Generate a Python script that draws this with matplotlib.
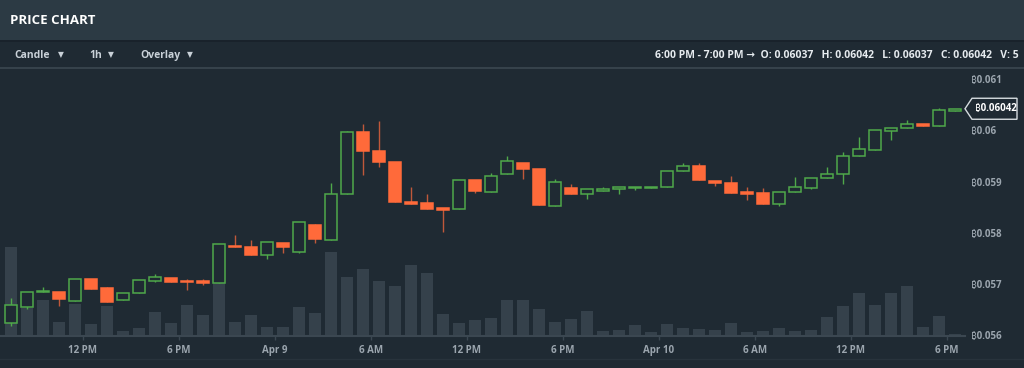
"""Hourly BTC price chart: candles with volume underneath, dark exchange-style UI."""

import numpy as np
import pandas as pd
import matplotlib
matplotlib.use("Agg")
import matplotlib.pyplot as plt
import matplotlib.dates as mdates
from matplotlib.patches import Rectangle, Polygon
from matplotlib.lines import Line2D
from matplotlib.transforms import IdentityTransform

W, H = 1024, 368
BG = "#1f2a33"
HEADER_BG = "#2c3a44"
GREEN = "#4fa84a"
RED = "#ff6a3a"
RED_WICK = "#c0583a"
VOL = "#35414b"
LINE = "#3b4751"
TEXT = "#c9d1d8"
AXIS_TEXT = "#9ba5ae"
FONT = ["Open Sans", "Noto Sans", "DejaVu Sans"]

times = pd.date_range("2018-04-08 07:00", periods=60, freq="h")
opens = [0.05624, 0.05656, 0.05684, 0.05685, 0.05667, 0.05710, 0.05692, 0.05669, 0.05683, 0.05707,
         0.05713, 0.05706, 0.05707, 0.05702, 0.05774, 0.05773, 0.05756, 0.05780, 0.05763, 0.05815,
         0.05787, 0.05876, 0.05997, 0.05960, 0.05939, 0.05860, 0.05858, 0.05848, 0.05846, 0.05904,
         0.05880, 0.05914, 0.05937, 0.05924, 0.05852, 0.05888, 0.05876, 0.05882, 0.05886, 0.05888,
         0.05888, 0.05889, 0.05920, 0.05930, 0.05902, 0.05898, 0.05879, 0.05877, 0.05856, 0.05879,
         0.05888, 0.05907, 0.05915, 0.05950, 0.05962, 0.05999, 0.06005, 0.06012, 0.06008, 0.06037]
highs = [0.05674, 0.05685, 0.05695, 0.05685, 0.05710, 0.05710, 0.05695, 0.05683, 0.05708, 0.05719,
         0.05713, 0.05711, 0.05711, 0.05779, 0.05795, 0.05786, 0.05782, 0.05780, 0.05822, 0.05817,
         0.05898, 0.05999, 0.06012, 0.06018, 0.05939, 0.05890, 0.05876, 0.05848, 0.05903, 0.05904,
         0.05916, 0.05950, 0.05937, 0.05924, 0.05906, 0.05895, 0.05885, 0.05890, 0.05889, 0.05889,
         0.05890, 0.05920, 0.05937, 0.05936, 0.05902, 0.05911, 0.05890, 0.05887, 0.05880, 0.05908,
         0.05907, 0.05928, 0.05957, 0.05987, 0.06000, 0.06005, 0.06021, 0.06012, 0.06043, 0.06042]
lows = [0.05619, 0.05651, 0.05684, 0.05658, 0.05667, 0.05691, 0.05666, 0.05669, 0.05683, 0.05704,
        0.05705, 0.05688, 0.05698, 0.05702, 0.05772, 0.05756, 0.05749, 0.05760, 0.05760, 0.05780,
        0.05787, 0.05876, 0.05912, 0.05929, 0.05860, 0.05857, 0.05847, 0.05802, 0.05846, 0.05877,
        0.05880, 0.05914, 0.05906, 0.05854, 0.05852, 0.05876, 0.05867, 0.05882, 0.05875, 0.05884,
        0.05888, 0.05889, 0.05920, 0.05903, 0.05891, 0.05878, 0.05865, 0.05856, 0.05852, 0.05879,
        0.05885, 0.05907, 0.05895, 0.05950, 0.05962, 0.05981, 0.06005, 0.06008, 0.06008, 0.06037]
closes = [0.05659, 0.05685, 0.05687, 0.05671, 0.05710, 0.05691, 0.05666, 0.05683, 0.05708, 0.05715,
          0.05705, 0.05704, 0.05702, 0.05779, 0.05772, 0.05756, 0.05782, 0.05773, 0.05822, 0.05788,
          0.05875, 0.05996, 0.05960, 0.05939, 0.05860, 0.05857, 0.05847, 0.05845, 0.05903, 0.05882,
          0.05911, 0.05941, 0.05924, 0.05854, 0.05899, 0.05876, 0.05885, 0.05886, 0.05889, 0.05889,
          0.05890, 0.05920, 0.05931, 0.05903, 0.05897, 0.05878, 0.05876, 0.05856, 0.05880, 0.05890,
          0.05907, 0.05915, 0.05950, 0.05963, 0.06000, 0.06005, 0.06012, 0.06008, 0.06039, 0.06042]
volumes = [444, 135, 175, 67, 155, 55, 145, 22, 38, 115,
           60, 152, 103, 260, 68, 101, 42, 40, 140, 110,
           418, 291, 334, 271, 246, 352, 311, 109, 64, 76,
           89, 177, 176, 134, 69, 82, 122, 22, 29, 52,
           17, 56, 37, 32, 29, 60, 17, 20, 35, 22,
           27, 94, 146, 212, 152, 211, 249, 42, 99, 5]

tick_times = pd.date_range("2018-04-08 12:00", "2018-04-10 18:00", freq="6h")
tick_labels = ["12 PM", "6 PM", "Apr 9", "6 AM", "12 PM", "6 PM", "Apr 10", "6 AM", "12 PM", "6 PM"]
price_ticks = [0.056, 0.057, 0.058, 0.059, 0.060, 0.061]
info_text = "6:00 PM - 7:00 PM \u2192  O: 0.06037   H: 0.06042   L: 0.06037   C: 0.06042   V: 5"


def fx(px):
    return px / W


def fy(py):
    return 1 - py / H


fig = plt.figure(figsize=(W / 100, H / 100), dpi=100, facecolor=BG)

# page chrome: header, toolbar, separators
fig.add_artist(Rectangle((0, fy(40)), 1, 40 / H, transform=fig.transFigure,
                         facecolor=HEADER_BG, edgecolor="none", zorder=0))
fig.add_artist(Line2D([0, 1], [fy(40.5)] * 2, transform=fig.transFigure, color="#18212a", lw=1.2))
fig.add_artist(Line2D([0, 1], [fy(68)] * 2, transform=fig.transFigure, color=LINE, lw=1.2))
fig.add_artist(Line2D([0, 1], [fy(359)] * 2, transform=fig.transFigure, color="#28333c", lw=1.0))

fig.text(fx(10), fy(21), "PRICE CHART", color="white", fontsize=9.5, fontweight="bold",
         family=FONT, va="center", ha="left")
for label, px in [("Candle", 14), ("1h", 89), ("Overlay", 140)]:
    fig.text(fx(px), fy(55.5), label, color=TEXT, fontsize=7.5, fontweight="bold",
             family=FONT, va="center", ha="left")
for px in [61, 111, 190]:
    fig.text(fx(px), fy(55), "\u25bc", color=TEXT, fontsize=5.5, family=["DejaVu Sans"],
             va="center", ha="center")
fig.text(fx(1019), fy(55.5), info_text, color="#e6ebef", fontsize=7.5, fontweight="bold",
         family=FONT, va="center", ha="right")

# chart axes
ax = fig.add_axes([0, fy(335.5), fx(965), (335.5 - 69) / H])
vax = ax.twinx()
ax.set_zorder(vax.get_zorder() + 1)
ax.patch.set_visible(False)
vax.patch.set_visible(False)

x = mdates.date2num(times + pd.Timedelta(minutes=30))
vax.bar(x, volumes, width=0.77 / 24, color=VOL, zorder=1)
vax.set_ylim(0, 1332)
vax.set_yticks([])

w = 0.75 / 24
for xi, o, h, l, c in zip(x, opens, highs, lows, closes):
    up = c >= o
    ax.vlines(xi, l, h, color=GREEN if up else RED_WICK, lw=1.0, zorder=2)
    ax.add_patch(Rectangle((xi - w / 2, min(o, c)), w, abs(c - o),
                           facecolor=BG if up else RED, edgecolor=GREEN if up else RED,
                           lw=1.1, zorder=3))

ax.set_xlim(mdates.date2num(pd.Timestamp("2018-04-08 06:50")),
            mdates.date2num(pd.Timestamp("2018-04-10 19:08")))
ax.set_ylim(0.056, 0.061195)

ax.set_xticks(mdates.date2num(tick_times))
ax.set_xticklabels(tick_labels)
ax.yaxis.tick_right()
ax.set_yticks(price_ticks)
ax.set_yticklabels([f"\u20bf{v:g}" for v in price_ticks])
ax.tick_params(axis="x", length=3, width=1, color=LINE, pad=4, labelcolor=AXIS_TEXT, labelsize=7)
ax.tick_params(axis="y", length=0, pad=4.5, labelcolor=AXIS_TEXT, labelsize=7)
for lab in ax.get_xticklabels() + ax.get_yticklabels():
    lab.set_family(FONT)
    lab.set_fontweight("bold")

for side in ["top", "left", "right"]:
    ax.spines[side].set_visible(False)
    vax.spines[side].set_visible(False)
vax.spines["bottom"].set_visible(False)
ax.spines["bottom"].set_color(LINE)
ax.spines["bottom"].set_linewidth(1.5)

# last price tag
fig.canvas.draw()
bbox = ax.get_window_extent()
ty = ax.transData.transform((x[-1], closes[-1]))[1]
x0 = bbox.x1
tag = Polygon([(x0, ty), (x0 + 7, ty + 10.5), (x0 + 52, ty + 10.5), (x0 + 52, ty - 10.5),
               (x0 + 7, ty - 10.5)], closed=True, transform=IdentityTransform(),
              facecolor=BG, edgecolor="#d6dce0", lw=1.0)
fig.add_artist(tag)
fig.text(x0 + 10, ty, f"\u20bf{closes[-1]:.5f}", transform=IdentityTransform(), color="white",
         fontsize=7, fontweight="bold", family=FONT, va="center", ha="left")

fig.savefig("out.png", dpi=100, facecolor=BG)
